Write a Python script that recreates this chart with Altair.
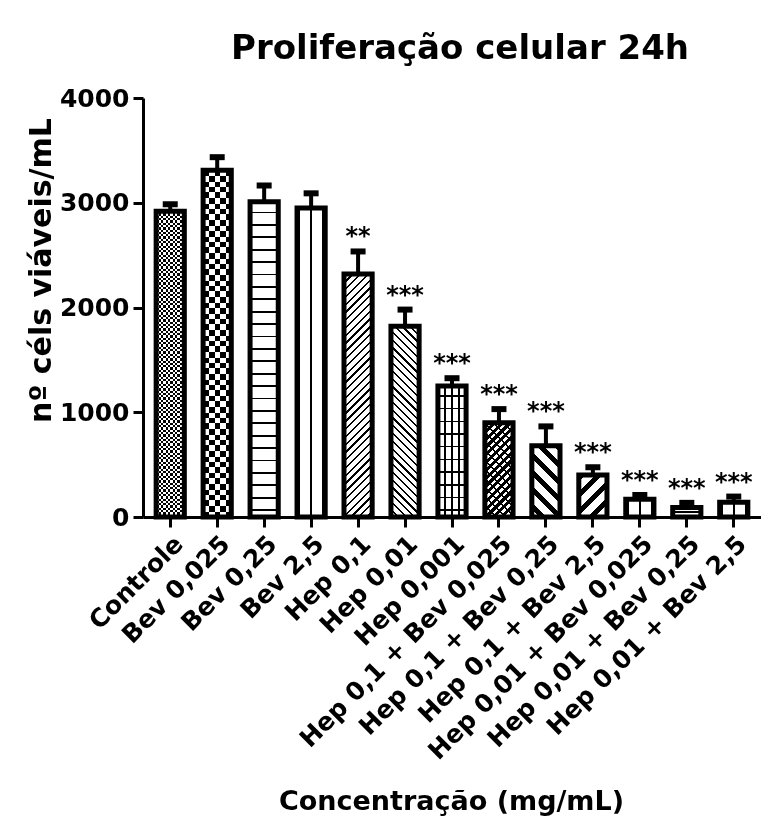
import math
import altair as alt
import pandas as pd

cats = ["Controle", "Bev 0,025", "Bev 0,25", "Bev 2,5", "Hep 0,1", "Hep 0,01",
        "Hep 0,001", "Hep 0,1 + Bev 0,025", "Hep 0,1 + Bev 0,25", "Hep 0,1 + Bev 2,5",
        "Hep 0,01 + Bev 0,025", "Hep 0,01 + Bev 0,25", "Hep 0,01 + Bev 2,5"]
means = [2920, 3310, 3010, 2950, 2320, 1820, 1250, 900, 680, 400, 170, 90, 140]
errs = [65, 125, 155, 140, 215, 160, 75, 130, 185, 75, 40, 45, 55]
sig = ["", "", "", "", "**", "***", "***", "***", "***", "***", "***", "***", "***"]

df = pd.DataFrame({"cat": cats, "mean": means, "err": errs, "sig": sig})
df["upper"] = df["mean"] + df["err"]

FONT = "DejaVu Sans"
W, H, YMAX = 618, 419, 4000
PI_, PO_ = 0.4, 0.28
step = W / (len(cats) - PI_ + 2 * PO_)
bw = step * (1 - PI_)


def segs(length, period, on, phase):
    out = []
    k = math.floor(-phase / period) - 1
    while True:
        s = phase + k * period
        if s >= length:
            break
        for a, b, c in ((s, s + on, "black"), (s + on, s + period, "white")):
            a2, b2 = max(a, 0.0), min(b, length)
            if b2 > a2:
                out.append((a2, b2, c))
        k += 1
    return out


def grad(kind, h, period, on, phase=0.0):
    w = bw
    if kind == "h":
        L = h
        geo = dict(x1=0, y1=1, x2=0, y2=0)
    elif kind == "v":
        L = w
        geo = dict(x1=0, y1=0, x2=1, y2=0)
    else:
        L = (w + h) / math.sqrt(2)
        den = w * w + h * h
        dx = (w + h) * w / den
        dy = (w + h) * h / den
        if kind == "/":
            geo = dict(x1=0, y1=0, x2=dx, y2=dy)
        else:
            geo = dict(x1=1, y1=0, x2=1 - dx, y2=dy)
    stops = []
    for a, b, c in segs(L, period, on, phase):
        stops.append(alt.GradientStop(offset=round(a / L, 5), color=c))
        stops.append(alt.GradientStop(offset=round(b / L, 5), color=c))
    return alt.Gradient(gradient="linear", stops=stops, **geo)


cv = bw / 2 - 0.8
patterns = [
    (("h", 4.6, 2.3, 0), ("v", 4.6, 2.3, 0.4), "difference"),
    (("h", 11, 5.5, 0), ("v", 11, 5.5, 0.5), "difference"),
    (("h", 12.4, 1.8, 6), None, None),
    (("v", 12, 1.6, cv), None, None),
    (("/", 5.5, 1.6, 0), None, None),
    (("\\", 5.5, 1.6, 0), None, None),
    (("h", 12.7, 1.6, 6), ("v", 7.2, 1.5, cv), "multiply"),
    (("/", 5.5, 3.0, 0), ("\\", 6.5, 1.4, 0), "multiply"),
    (("\\", 12, 5, 0), None, None),
    (("/", 12, 5, 0), None, None),
    (("v", 12, 1.6, cv), None, None),
    (("h", 12, 1.6, 4), None, None),
    (("v", 12, 1.6, cv), None, None),
]

xaxis = alt.Axis(labelAngle=-45, labelFont=FONT, labelFontSize=25, labelFontWeight="bold",
                 labelColor="black", labelLimit=500, labelOverlap=False, labelPadding=4,
                 tickSize=10, tickWidth=3, tickColor="black", domainWidth=3, domainColor="black",
                 titleFont=FONT, titleFontSize=27, titleFontWeight="bold", titleColor="black",
                 titleX=308, titleY=292, titleBaseline="alphabetic", titleAlign="center")
yaxis = alt.Axis(values=[0, 1000, 2000, 3000, 4000], format="d", grid=False,
                 domainWidth=3, domainColor="black", tickWidth=3, tickColor="black", tickSize=10,
                 labelFont=FONT, labelFontSize=25, labelFontWeight="bold", labelColor="black",
                 labelPadding=4, titleFont=FONT, titleFontSize=30, titleFontWeight="bold",
                 titleColor="black", titleX=-93, titleY=172, titleAlign="center",
                 titleBaseline="alphabetic", titleAngle=270)

xscale = alt.Scale(domain=cats, paddingInner=PI_, paddingOuter=PO_)
yscale = alt.Scale(domain=[0, YMAX], nice=False)
XT = "Concentração (mg/mL)"
YT = "nº céls viáveis/mL"


def X():
    return alt.X("cat:N", sort=cats, scale=xscale, axis=xaxis, title=XT)


def Y(field):
    return alt.Y(field, scale=yscale, axis=yaxis, title=YT)


base = alt.Chart(df)
layers = []
for i, (c, m) in enumerate(zip(cats, means)):
    h = m / YMAX * H
    b, o, blend = patterns[i]
    sub = base.transform_filter(alt.datum.cat == c)
    layers.append(sub.mark_bar(fill=grad(b[0], h, b[1], b[2], b[3]), strokeWidth=0)
                  .encode(x=X(), y=Y("mean:Q")))
    if o is not None:
        layers.append(sub.mark_bar(fill=grad(o[0], h, o[1], o[2], o[3]), strokeWidth=0,
                                   blend=blend)
                      .encode(x=X(), y=Y("mean:Q")))

stems = base.mark_rule(color="black", strokeWidth=4).encode(
    x=X(), y=Y("mean:Q"), y2="upper:Q")
outline = base.mark_bar(fill="white", fillOpacity=0, stroke="black", strokeWidth=5,
                        strokeJoin="miter").encode(x=X(), y=Y("mean:Q"))
caps = base.mark_tick(color="black", thickness=6, size=15, opacity=1).encode(
    x=X(), y=Y("upper:Q"))
stars = base.transform_filter(alt.datum.sig != "").mark_text(
    font=FONT, fontSize=24, fontWeight="bold", color="black", baseline="alphabetic", dy=-7
).encode(x=X(), y=Y("upper:Q"), text="sig:N")

chart = alt.layer(stems, *layers, outline, caps, stars).properties(
    width=W, height=H,
    autosize=alt.AutoSizeParams(type="none"),
    padding={"left": 135, "top": 90, "right": 0, "bottom": 300},
    title=alt.TitleParams("Proliferação celular 24h", font=FONT, fontSize=34,
                          fontWeight="bold", color="black", anchor="middle", dx=8, offset=20),
).configure_view(stroke=None)

chart.save("out.html", embed_options={"renderer": "svg", "actions": False})
